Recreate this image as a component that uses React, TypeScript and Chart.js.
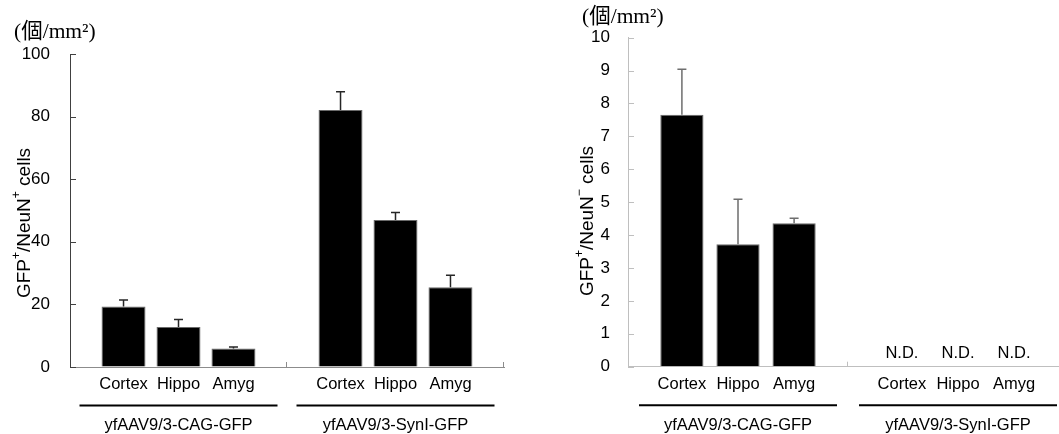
import React, { useEffect, useRef } from 'react';
import { Chart, registerables } from 'chart.js';

Chart.register(...registerables);

// ---- data ----
const groupLabels = ['yfAAV9/3-CAG-GFP', 'yfAAV9/3-SynI-GFP'];
const regionLabels = ['Cortex', 'Hippo', 'Amyg'];

const neunPosCagMeans = [19.3, 12.8, 5.9];
const neunPosCagErrors = [2.1, 2.4, 0.5];
const neunPosSynMeans = [82.1, 47.0, 25.5];
const neunPosSynErrors = [5.8, 2.4, 3.8];

const neunNegCagMeans = [7.66, 3.72, 4.36];
const neunNegCagErrors = [1.38, 1.37, 0.15];
const neunNegSynMeans = [null, null, null];
const neunNegSynErrors = [null, null, null];

const neunPosTicks = { min: 0, max: 100, step: 20 };
const neunNegTicks = { min: 0, max: 10, step: 1 };

const unitText = '(個/mm²)';
const ndText = 'N.D.';

const SANS = '"Liberation Sans", Arial, sans-serif';

type Seg = { t: string; sup?: boolean };

function drawSegs(ctx: CanvasRenderingContext2D, segs: Seg[], cx: number, cy: number, size: number, supSize: number) {
  ctx.save();
  ctx.translate(cx, cy);
  ctx.rotate(-Math.PI / 2);
  const fMain = `${size}px ${SANS}`;
  const fSup = `${supSize}px ${SANS}`;
  let total = 0;
  const widths = segs.map((s) => {
    ctx.font = s.sup ? fSup : fMain;
    const w = ctx.measureText(s.t).width;
    total += w;
    return w;
  });
  let x = -total / 2;
  ctx.fillStyle = '#000';
  ctx.textAlign = 'left';
  ctx.textBaseline = 'middle';
  segs.forEach((s, i) => {
    ctx.font = s.sup ? fSup : fMain;
    ctx.fillText(s.t, x, s.sup ? -size * 0.42 : 0);
    x += widths[i];
  });
  ctx.restore();
}

const decorPlugin = {
  id: 'decor',
  afterDatasetsDraw(chart: any, _args: any, o: any) {
    const ctx: CanvasRenderingContext2D = chart.ctx;
    const xs = chart.scales.x;
    const ys = chart.scales.y;
    const area = chart.chartArea;
    ctx.save();

    // error bars and N.D. marks
    chart.data.datasets.forEach((ds: any, di: number) => {
      const meta = chart.getDatasetMeta(di);
      meta.data.forEach((bar: any, j: number) => {
        const v = ds.data[j];
        const x = bar.x;
        if (v == null) {
          ctx.fillStyle = '#000';
          ctx.font = `16.5px ${SANS}`;
          ctx.textAlign = 'center';
          ctx.textBaseline = 'alphabetic';
          ctx.fillText(ndText, x, area.bottom - 9);
          return;
        }
        const e = ds.errors[j];
        if (e == null) return;
        const yTop = ys.getPixelForValue(v + e);
        const yBar = ys.getPixelForValue(v);
        ctx.strokeStyle = o.errColor;
        ctx.lineWidth = 1.5;
        ctx.beginPath();
        ctx.moveTo(x, yBar);
        ctx.lineTo(x, yTop);
        ctx.moveTo(x - 4.5, yTop);
        ctx.lineTo(x + 4.5, yTop);
        ctx.stroke();
      });
    });

    // inside tick marks on the y axis
    ctx.strokeStyle = o.yAxisColor;
    ctx.lineWidth = 1;
    ys.ticks.forEach((t: any) => {
      const y = Math.round(ys.getPixelForValue(t.value)) + 0.5;
      ctx.beginPath();
      ctx.moveTo(area.left, y);
      ctx.lineTo(area.left + 6, y);
      ctx.stroke();
    });

    // inside tick marks on the x axis (group boundaries)
    ctx.strokeStyle = o.xAxisColor;
    const n = xs.getLabels().length;
    for (let i = 1; i <= n; i++) {
      const x = Math.round(xs.left + (i * xs.width) / n) - 0.5;
      ctx.beginPath();
      ctx.moveTo(x, area.bottom);
      ctx.lineTo(x, area.bottom - 5);
      ctx.stroke();
    }

    // region labels under each bar
    ctx.fillStyle = '#000';
    ctx.font = `16.5px ${SANS}`;
    ctx.textAlign = 'center';
    ctx.textBaseline = 'alphabetic';
    chart.data.datasets.forEach((ds: any, di: number) => {
      const meta = chart.getDatasetMeta(di);
      meta.data.forEach((bar: any) => {
        ctx.fillText(ds.label, bar.x, area.bottom + 22);
      });
    });

    // group labels with underline
    xs.getLabels().forEach((lab: string, j: number) => {
      const cx = xs.getPixelForValue(j);
      ctx.strokeStyle = '#000';
      ctx.lineWidth = 2;
      ctx.beginPath();
      ctx.moveTo(cx - 99, area.bottom + 38.5);
      ctx.lineTo(cx + 99, area.bottom + 38.5);
      ctx.stroke();
      ctx.fillStyle = '#000';
      ctx.font = `16.5px ${SANS}`;
      ctx.fillText(lab, cx, area.bottom + 63);
    });

    // y axis title
    drawSegs(ctx, o.titleSegs, o.titleX, o.titleY, 19, 12);

    // unit label
    ctx.fillStyle = '#000';
    ctx.font = `21.5px "Liberation Serif", "Noto Sans CJK JP", serif`;
    ctx.textAlign = 'left';
    ctx.textBaseline = 'alphabetic';
    ctx.fillText(unitText, o.unitX, o.unitY);

    ctx.restore();
  },
};

function buildConfig(
  cag: (number | null)[],
  cagErr: (number | null)[],
  syn: (number | null)[],
  synErr: (number | null)[],
  ticks: { min: number; max: number; step: number },
  geo: any
): any {
  const datasets = regionLabels.map((lab, i) => ({
    label: lab,
    data: [cag[i], syn[i]],
    errors: [cagErr[i], synErr[i]],
    backgroundColor: '#000',
    borderColor: '#6a6a6a',
    borderWidth: 1,
    categoryPercentage: geo.catPct,
    barPercentage: geo.barPct,
  }));
  return {
    type: 'bar',
    data: { labels: groupLabels, datasets },
    plugins: [decorPlugin],
    options: {
      responsive: false,
      animation: false,
      devicePixelRatio: 1,
      layout: { padding: { top: geo.top, right: geo.right, left: 0, bottom: 0 } },
      plugins: {
        legend: { display: false },
        tooltip: { enabled: false },
        decor: geo.decor,
      },
      scales: {
        x: {
          type: 'category',
          grid: { display: true, drawOnChartArea: false, drawTicks: false },
          border: { display: true, color: geo.decor.xAxisColor, width: 1 },
          ticks: { display: false },
          afterFit: (s: any) => {
            s.height = geo.xHeight;
          },
        },
        y: {
          min: ticks.min,
          max: ticks.max,
          grid: { display: true, drawOnChartArea: false, drawTicks: false },
          border: { display: true, color: geo.decor.yAxisColor, width: 1 },
          ticks: {
            stepSize: ticks.step,
            padding: geo.tickPad,
            color: '#000',
            font: { family: SANS, size: 17 },
          },
          afterFit: (s: any) => {
            s.width = geo.yWidth;
          },
        },
      },
    },
  };
}

function BarPanel(props: { config: any; width: number; left: number }) {
  const ref = useRef<HTMLCanvasElement | null>(null);
  useEffect(() => {
    if (!ref.current) return;
    const chart = new Chart(ref.current, props.config);
    return () => chart.destroy();
  }, []);
  return (
    <canvas
      ref={ref}
      width={props.width}
      height={434}
      style={{ position: 'absolute', left: props.left, top: 0, width: props.width, height: 434 }}
    />
  );
}

const leftConfig = buildConfig(
  neunPosCagMeans,
  neunPosCagErrors,
  neunPosSynMeans,
  neunPosSynErrors,
  neunPosTicks,
  {
    catPct: 0.76,
    barPct: 0.8,
    top: 54,
    right: 16,
    xHeight: 67,
    yWidth: 70,
    tickPad: 20,
    decor: {
      errColor: '#262626',
      xAxisColor: '#8c8c8c',
      yAxisColor: '#404040',
      titleSegs: [{ t: 'GFP' }, { t: '+', sup: true }, { t: '/NeuN' }, { t: '+', sup: true }, { t: ' cells' }],
      titleX: 25,
      titleY: 223,
      unitX: 14,
      unitY: 38,
    },
  }
);

const rightConfig = buildConfig(
  neunNegCagMeans,
  neunNegCagErrors,
  neunNegSynMeans,
  neunNegSynErrors,
  neunNegTicks,
  {
    catPct: 0.765,
    barPct: 0.77,
    top: 37.7,
    right: 12,
    xHeight: 67.3,
    yWidth: 68,
    tickPad: 18,
    decor: {
      errColor: '#6e6e6e',
      xAxisColor: '#bfbfbf',
      yAxisColor: '#bfbfbf',
      titleSegs: [{ t: 'GFP' }, { t: '+', sup: true }, { t: '/NeuN' }, { t: '−', sup: true }, { t: ' cells' }],
      titleX: 28,
      titleY: 221,
      unitX: 22,
      unitY: 23,
    },
  }
);

export default function App() {
  useEffect(() => {
    document.body.style.margin = '0';
    document.body.style.overflow = 'hidden';
  }, []);
  return (
    <div style={{ position: 'relative', width: 1059, height: 434, overflow: 'hidden', background: '#fff' }}>
      <BarPanel config={leftConfig} width={520} left={0} />
      <BarPanel config={rightConfig} width={520} left={560} />
    </div>
  );
}
